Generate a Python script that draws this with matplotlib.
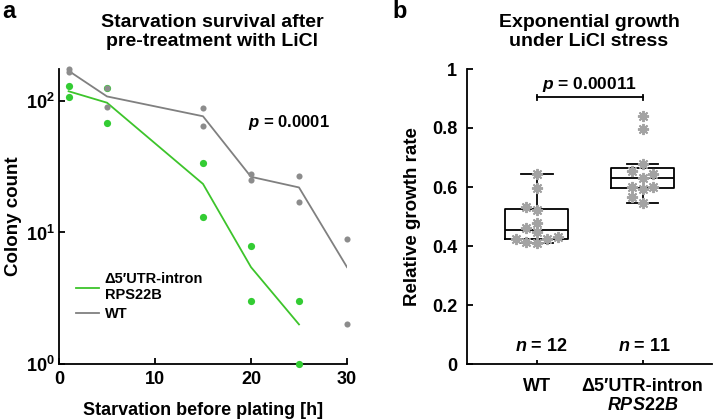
import numpy as np
import matplotlib
matplotlib.use('Agg')
import matplotlib.pyplot as plt
from matplotlib.ticker import FuncFormatter

plt.rcParams['font.family'] = ['Liberation Sans', 'DejaVu Sans']
plt.rcParams['font.weight'] = 'bold'
plt.rcParams['mathtext.fontset'] = 'custom'
plt.rcParams['mathtext.rm'] = 'Liberation Sans:bold'
plt.rcParams['mathtext.bf'] = 'Liberation Sans:bold'
plt.rcParams['mathtext.it'] = 'Liberation Sans:italic:bold'

# ---------------- Panel a data ----------------
wt_hours = [1, 5, 15, 20, 25, 30]
wt_rep1 = [174, 126, 88, 27.9, 27, 8.9]
wt_rep2 = [165, 90.5, 65, 25.1, 17, 2.0]
mut_hours = [1, 5, 15, 20, 25]
mut_rep1 = [129, 126, 33.8, 7.9, 3.0]
mut_rep2 = [108, 68, 13, 3.0, 1.0]
p_a = "0.0001"

# ---------------- Panel b data ----------------
groups = ["WT", "Δ5′UTR-intron\n$\\mathit{RPS22B}$"]
wt_rate = [0.644, 0.598, 0.522, 0.531, 0.477, 0.462, 0.449, 0.409, 0.415, 0.423, 0.423, 0.429]
mut_rate = [0.842, 0.797, 0.677, 0.629, 0.593, 0.545, 0.655, 0.643, 0.599, 0.599, 0.565]
p_b = "0.00011"

GREEN = '#3dc42b'
GREEN_DOT = '#33cc33'
GRAY = '#808080'
GRAY_DOT = '#8c8c8c'
STAR = '#a3a3a3'
FS = 13

W, H = 713, 419
fig = plt.figure(figsize=(W / 100, H / 100), dpi=100)

def fx(px):
    return px / W

def fy(py):
    return 1 - py / H

# ---------------- Panel a ----------------
axa = fig.add_axes([fx(59), fy(364), fx(347) - fx(59), fy(69) - fy(364)])
mut_mean = np.mean([mut_rep1, mut_rep2], axis=0)
wt_mean = np.mean([wt_rep1, wt_rep2], axis=0)
la, = axa.plot(mut_hours, mut_mean, color=GREEN, lw=1.3, zorder=2)
lb, = axa.plot(wt_hours, wt_mean, color=GRAY, lw=1.3, zorder=2)
for rep in (mut_rep1, mut_rep2):
    axa.plot(mut_hours, rep, 'o', color=GREEN_DOT, ms=5.2, mec='none', clip_on=False, zorder=3)
for rep in (wt_rep1, wt_rep2):
    axa.plot(wt_hours, rep, 'o', color=GRAY_DOT, ms=4.4, mec='none', clip_on=False, zorder=4)
axa.set_yscale('log')
axa.set_xlim(0, 30)
axa.set_ylim(1, 175)
axa.set_xticks([0, 10, 20, 30])
axa.set_yticks([1, 10, 100])
axa.yaxis.set_minor_locator(matplotlib.ticker.NullLocator())
axa.yaxis.set_major_formatter(FuncFormatter(lambda v, pos: r'$\mathbf{10^{%d}}$' % round(np.log10(v))))
for s in ('top', 'right'):
    axa.spines[s].set_visible(False)
for s in ('left', 'bottom'):
    axa.spines[s].set_linewidth(1.3)
axa.tick_params(direction='in', length=4, width=1.3, labelsize=13, pad=5)
axa.tick_params(axis='y', pad=3)
axa.set_xlabel('Starvation before plating [h]', fontsize=FS, fontweight='bold', labelpad=10)
axa.set_ylabel('Colony count', fontsize=13.5, fontweight='bold', labelpad=3)
axa.text(0.80, 0.82, f'$p$ = {p_a}', fontsize=12, ha='center', va='center',
         transform=axa.transAxes)
leg = axa.legend([la, lb], ['Δ5′UTR-intron\nRPS22B', 'WT'], loc='lower left',
                 bbox_to_anchor=(0.03, 0.115), frameon=False, fontsize=10.5, handlelength=1.55,
                 handletextpad=0.4, labelspacing=0.35, borderaxespad=0.2)
fig.text(fx(212), fy(32), 'Starvation survival after\npre-treatment with LiCl', ha='center', va='center',
         fontsize=14, fontweight='bold', linespacing=1.2)
fig.text(fx(2), fy(11), 'a', fontsize=17, fontweight='bold', ha='left', va='center')

# ---------------- Panel b ----------------
axb = fig.add_axes([fx(467), fy(364), 0.999 - fx(467), fy(69) - fy(364)])
bp = axb.boxplot([wt_rate, mut_rate], positions=[1, 2], widths=0.6, showfliers=False, whis=1.5,
                 medianprops=dict(color='black', lw=1.3),
                 boxprops=dict(color='black', lw=1.3),
                 whiskerprops=dict(color='black', lw=1.3),
                 capprops=dict(color='black', lw=1.3))

def swarm(vals, step=0.1, thr=0.025):
    slots = [0, -1, 1, -2, 2, -3, 3]
    placed = []
    offs = []
    for v in vals:
        chosen = slots[-1]
        for s in slots:
            if all(not (ps == s and abs(pv - v) < thr) for pv, ps in placed):
                chosen = s
                break
        placed.append((v, chosen))
        offs.append(chosen * step)
    return np.array(offs)

for i, vals in enumerate([wt_rate, mut_rate]):
    xs = i + 1 + swarm(vals)
    axb.plot(xs, vals, linestyle='none', marker=(8, 2, 0), ms=8, mew=1.4, color=STAR, zorder=5)

axb.set_xlim(0.34, 2.66)
axb.set_ylim(0, 1)
axb.set_yticks([0, 0.2, 0.4, 0.6, 0.8, 1])
axb.set_yticklabels(['0', '0.2', '0.4', '0.6', '0.8', '1'])
axb.set_xticks([1, 2])
axb.set_xticklabels(groups)
for s in ('top', 'right'):
    axb.spines[s].set_visible(False)
for s in ('left', 'bottom'):
    axb.spines[s].set_linewidth(1.3)
axb.tick_params(direction='in', length=4, width=1.3, labelsize=13, pad=7)
axb.tick_params(axis='x', length=3, pad=10)
axb.set_ylabel('Relative growth rate', fontsize=13.5, fontweight='bold', labelpad=8)
# significance bracket
yb = 0.904
axb.plot([1, 2], [yb, yb], color='black', lw=1.3)
axb.plot([1, 1], [yb - 0.009, yb + 0.009], color='black', lw=1.3)
axb.plot([2, 2], [yb - 0.009, yb + 0.009], color='black', lw=1.3)
axb.text(1.5, 0.946, f'$p$ = {p_b}', fontsize=12.5, ha='center', va='center')
axb.text(1.04, 0.059, f'$n$ = {len(wt_rate)}', fontsize=13, ha='center', va='center')
axb.text(2.02, 0.059, f'$n$ = {len(mut_rate)}', fontsize=13, ha='center', va='center')
fig.text(fx(589), fy(32), 'Exponential growth\nunder LiCl stress', ha='center', va='center',
         fontsize=14, fontweight='bold', linespacing=1.2)
fig.text(fx(392), fy(11), 'b', fontsize=17, fontweight='bold', ha='left', va='center')

fig.savefig('out.png', dpi=100)
